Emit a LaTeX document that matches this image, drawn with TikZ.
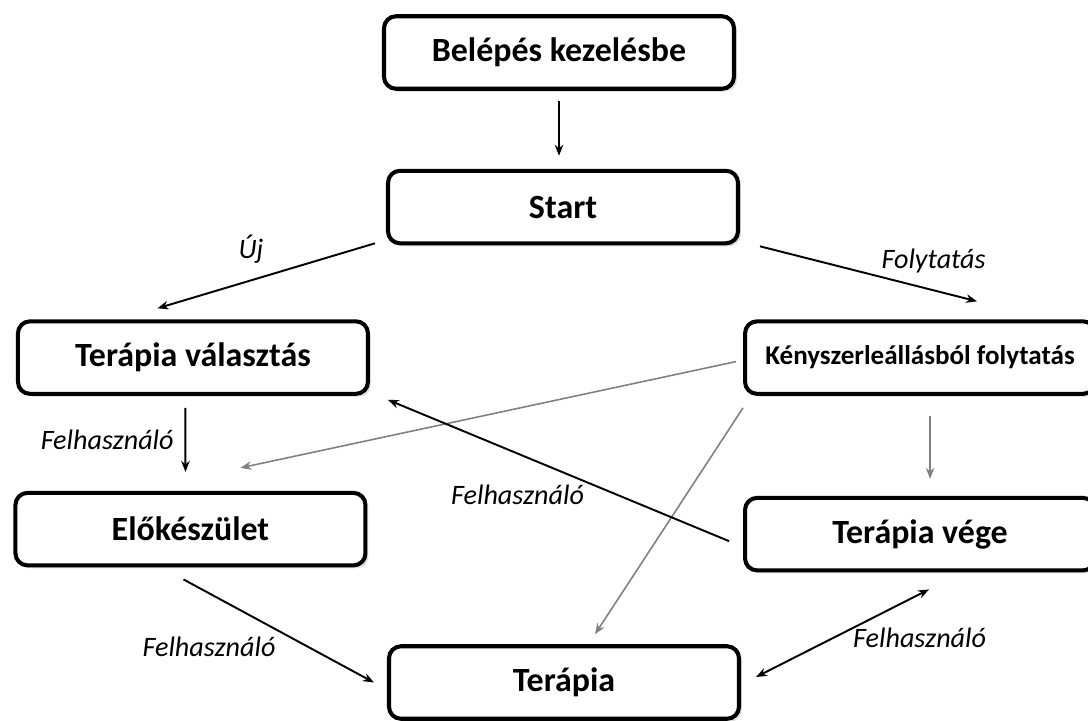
\documentclass[tikz,border=0pt]{standalone}
\usepackage{fontspec}
\setmainfont{Carlito}
\usepackage{tikz}
\usetikzlibrary{arrows.meta, positioning, shadows}
\definecolor{linegray}{HTML}{808080}

\begin{document}
\begin{tikzpicture}[
    box/.style={rectangle, draw, line width=2.3pt, rounded corners=0.24cm, fill=white, minimum width=7cm, minimum height=1.45cm, align=center, font=\fontsize{19.3}{23}\selectfont\bfseries, drop shadow={shadow xshift=0.6mm, shadow yshift=-0.6mm, opacity=0.25}},
    arrow/.style={-{Stealth[length=2.2mm, width=1.7mm]}, line width=1.1pt},
    grayarrow/.style={arrow, draw=linegray, line width=0.9pt},
    twoway/.style={arrow, {Stealth[length=2.2mm, width=1.7mm]}-{Stealth[length=2.2mm, width=1.7mm]}},
    lbl/.style={font=\fontsize{16}{19}\selectfont\itshape},
]
\useasboundingbox (0,0) rectangle (21.76,-14.4);
\clip (0,0) rectangle (21.76,-14.4);

\node[box] (bel) at (11.18,-1.05) {Belépés kezelésbe};
\node[box, below=1.56cm of bel, xshift=0.08cm] (start) {Start};
\node[box, below left=1.48cm and 0.32cm of start] (tv) {Terápia választás};
\node[box, below right=1.48cm and 0.06cm of start, font=\fontsize{15.4}{18}\selectfont\bfseries] (keny) {Kényszerleállásból folytatás};
\node[box, below=1.9cm of tv, xshift=-0.05cm] (elo) {Előkészület};
\node[box, below=2cm of keny] (tvege) {Terápia vége};
\node[box] (ter) at (11.28,-13.65) {Terápia};

\draw[arrow] ([yshift=-2mm]bel.south) -- ([yshift=2.6mm]bel.south |- start.north);
\draw[arrow] ([shift={(-0.22,0.04)}]start.south west) -- node[lbl, pos=0.57, above=2mm] {Új} ([shift={(-0.71,0.22)}]tv.north);
\draw[arrow] ([shift={(0.4,-0.02)}]start.south east) -- node[lbl, pos=0.8, above=2mm] {Folytatás} ([shift={(1.14,0.36)}]keny.north);
\draw[arrow] ([shift={(-0.15,-0.24)}]tv.south) -- node[lbl, left=1mm] {Felhasználó} ([shift={(-0.1,0.38)}]elo.north);

\draw[grayarrow] ([shift={(-0.14,-0.08)}]keny.west) -- ([shift={(1.0,0.46)}]elo.north);
\draw[grayarrow] ([shift={(0.2,-0.4)}]keny.south) -- ([shift={(0.2,0.34)}]tvege.north);
\draw[grayarrow] ([yshift=-0.24cm]keny.south west) -- ([shift={(0.62,0.2)}]ter.north);

\draw[arrow] ([shift={(-0.28,-0.14)}]tvege.west) -- node[lbl, pos=0.62, below=0.5cm] {Felhasználó} ([shift={(0.36,-0.08)}]tv.south east);
\draw[arrow] ([shift={(-0.14,-0.24)}]elo.south) -- node[lbl, pos=0.65, left=0.5cm] {Felhasználó} ([xshift=-0.26cm]ter.west);
\draw[twoway] ([shift={(0.3,0.11)}]ter.east) -- node[lbl, pos=0.45, right=0.25cm] {Felhasználó} ([shift={(0.18,-0.34)}]tvege.south);

\end{tikzpicture}
\end{document}
